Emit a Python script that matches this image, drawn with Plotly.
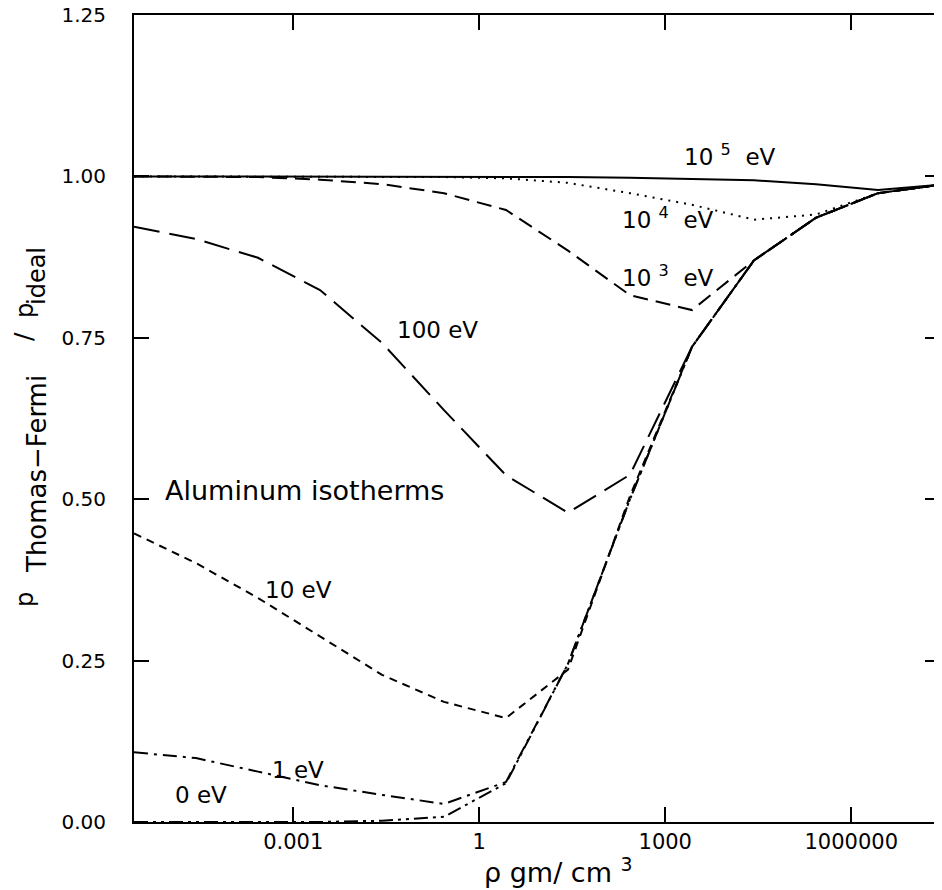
import plotly.graph_objects as go

# density values (gm/cm^3): 2.7 * 10^k
rho = [2.7e-6, 2.7e-5, 2.7e-4, 2.7e-3, 2.7e-2, 2.7e-1, 2.7, 2.7e1, 2.7e2, 2.7e3, 2.7e4, 2.7e5, 2.7e6, 2.7e7]

t_1e5 = [1.0, 1.0, 1.0, 1.0, 1.0, 1.0, 1.0, 0.999, 0.998, 0.996, 0.994, 0.988, 0.979, 0.987]
t_1e4 = [1.0, 1.0, 1.0, 1.0, 1.0, 0.999, 0.997, 0.99, 0.974, 0.956, 0.933, 0.941, 0.974, 0.987]
t_1e3 = [1.0, 1.0, 0.999, 0.995, 0.988, 0.974, 0.948, 0.885, 0.816, 0.793, 0.870, 0.936, 0.974, 0.987]
t_100 = [0.922, 0.903, 0.874, 0.824, 0.742, 0.638, 0.537, 0.479, 0.538, 0.736, 0.870, 0.936, 0.974, 0.987]
t_10 = [0.447, 0.401, 0.347, 0.287, 0.228, 0.186, 0.161, 0.236, 0.505, 0.736, 0.870, 0.936, 0.974, 0.987]
t_1 = [0.108, 0.099, 0.078, 0.057, 0.042, 0.028, 0.062, 0.245, 0.50, 0.736, 0.870, 0.936, 0.974, 0.987]
t_0 = [0.0, 0.0, 0.0, 0.0, 0.002, 0.008, 0.060, 0.245, 0.50, 0.736, 0.870, 0.936, 0.974, 0.987]

series = [
    ("10^5 eV", t_1e5, "solid"),
    ("10^4 eV", t_1e4, "2px,6px"),
    ("10^3 eV", t_1e3, "15px,8px"),
    ("100 eV", t_100, "26px,10px"),
    ("10 eV", t_10, "8px,6px"),
    ("1 eV", t_1, "14px,6px,3px,6px"),
    ("0 eV", t_0, "14px,5px,3px,5px,3px,5px"),
]

labels = [
    ("10 <sup>5</sup>  eV", 4.05, 1.033, 23),
    ("10 <sup>4</sup>  eV", 3.05, 0.935, 23),
    ("10 <sup>3</sup>  eV", 3.05, 0.846, 23),
    ("100 eV", -0.68, 0.762, 23),
    ("Aluminum isotherms", -2.82, 0.514, 27),
    ("10 eV", -2.92, 0.359, 23),
    ("1 eV", -2.92, 0.081, 23),
    ("0 eV", -4.48, 0.042, 23),
]

# y-axis title pieces (text, figure-pixel centre x, centre y, font size)
ytitle_parts = [
    ("p", 17, 592, 24),
    ("Thomas−Fermi", 29, 466, 26),
    ("/", 16, 328, 25),
    ("p", 17, 303, 24),
    ("ideal", 29, 268, 24),
]
xtitle = "ρ gm/ cm <sup>3</sup>"

FONT = "DejaVu Sans"
W, H = 942, 890
ML, MR, MT, MB = 126, 10, 7, 76   # page body adds an 8px offset
PW, PH = W - ML - MR, H - MT - MB

fig = go.Figure()
for name, ys, dash in series:
    fig.add_trace(go.Scatter(x=rho, y=ys, mode="lines", name=name,
                             line=dict(color="black", width=2, dash=dash)))

for txt, lx, ly, fs in labels:
    fig.add_annotation(x=lx, y=ly, xref="x", yref="y", text=txt, showarrow=False,
                       font=dict(family=FONT, size=fs, color="black"))

for txt, px, py, fs in ytitle_parts:
    fig.add_annotation(x=(px - ML) / PW, y=(H - MB - py) / PH, xref="paper", yref="paper",
                       text=txt, showarrow=False, textangle=-90,
                       xanchor="center", yanchor="middle",
                       font=dict(family=FONT, size=fs, color="black"))

fig.add_annotation(x=(550 - ML) / PW, y=(H - MB - 862) / PH, xref="paper", yref="paper",
                   text=xtitle, showarrow=False, xanchor="center", yanchor="middle",
                   font=dict(family=FONT, size=27, color="black"))

fig.update_layout(
    width=W, height=H,
    margin=dict(l=ML, r=MR, t=MT, b=MB),
    paper_bgcolor="white", plot_bgcolor="white",
    showlegend=False,
    font=dict(family=FONT, color="black"),
)
fig.update_xaxes(
    type="log", range=[-5.5686, 7.4314], automargin=False,
    tickvals=[0.001, 1, 1000, 1000000], ticktext=["0.001", "1", "1000", "1000000"],
    ticks="inside", ticklen=15, tickwidth=2, tickcolor="black",
    showline=True, linewidth=2, linecolor="black", mirror="ticks",
    showgrid=False, zeroline=False,
    tickfont=dict(family=FONT, size=21),
    ticklabelstandoff=0, ticklabeloverflow="allow",
)
fig.update_yaxes(
    range=[0, 1.25], automargin=False,
    tickvals=[0, 0.25, 0.5, 0.75, 1.0, 1.25],
    ticktext=["0.00", "0.25", "0.50", "0.75", "1.00", "1.25"],
    ticks="inside", ticklen=15, tickwidth=2, tickcolor="black",
    showline=True, linewidth=2, linecolor="black", mirror="ticks",
    showgrid=False, zeroline=False,
    tickfont=dict(family=FONT, size=20),
    ticklabelstandoff=22, ticklabeloverflow="allow",
)

fig.write_html("out.html")
